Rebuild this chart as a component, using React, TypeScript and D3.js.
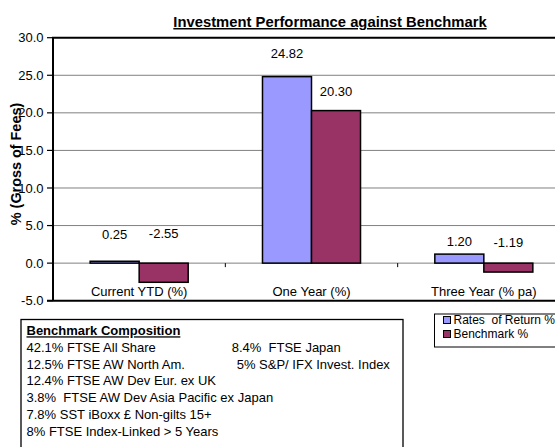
import React from "react";
import * as d3 from "d3";

const categories = ["Current YTD (%)", "One Year (%)", "Three Year (% pa)"];
const seriesNames = ["Rates  of Return %", "Benchmark %"];
const ratesOfReturn = [0.25, 24.82, 1.2];
const benchmark = [-2.55, 20.3, -1.19];
const yTicks = [-5, 0, 5, 10, 15, 20, 25, 30];
const compositionTitle = "Benchmark Composition";
const compositionLeft = [
  "42.1% FTSE All Share",
  "12.5% FTSE AW North Am.",
  "12.4% FTSE AW Dev Eur. ex UK",
  "3.8%  FTSE AW Dev Asia Pacific ex Japan",
  "7.8% SST iBoxx £ Non-gilts 15+",
  "8% FTSE Index-Linked > 5 Years",
];
const compositionRight = ["8.4%  FTSE Japan", "5% S&P/ IFX Invest. Index"];
const chartTitle = "Investment Performance against Benchmark";
const yTitle = "% (Gross of Fees)";

// label anchor heights (in value units) as placed in the reference
const labelLevels = [
  [3.85, 27.9, 2.95],
  [3.95, 22.8, 2.75],
];

const W = 555;
const H = 447;
const FONT = "'Liberation Sans', Arial, sans-serif";
const colors = ["#9999FF", "#993366"];
const fmt1 = (v: number) => d3.format(".1f")(v).replace("\u2212", "-");
const fmt2 = (v: number) => d3.format(".2f")(v).replace("\u2212", "-");

export default function App() {
  const plotLeft = 53;
  const plotRight = 570;
  const plotTop = 37.7;
  const plotBottom = 300.7;

  const x = d3.scaleBand<string>().domain(categories).range([plotLeft, plotRight]).padding(0);
  const xs = d3
    .scaleBand<number>()
    .domain([0, 1])
    .range([0, x.bandwidth()])
    .paddingInner(0)
    .paddingOuter(0.758);
  const y = d3.scaleLinear().domain([-5, 30]).range([plotBottom, plotTop]);

  const series = [ratesOfReturn, benchmark];

  return (
    <svg
      width={W}
      height={H}
      style={{ position: "absolute", left: 0, top: 0, background: "#fff" }}
      fontFamily={FONT}
    >
      <rect x={0} y={0} width={W} height={H} fill="#fff" />
      {/* title */}
      <text
        x={330}
        y={27}
        textAnchor="middle"
        fontSize={14.8}
        fontWeight="bold"
        textDecoration="underline"
      >
        {chartTitle}
      </text>

      {/* gridlines */}
      {yTicks
        .filter((t) => t > -5 && t < 30)
        .map((t) => (
          <line
            key={"g" + t}
            x1={plotLeft}
            x2={plotRight}
            y1={y(t)}
            y2={y(t)}
            stroke="#808080"
            strokeWidth={1}
          />
        ))}

      {/* bars */}
      {series.map((vals, si) =>
        vals.map((v, ci) => {
          const bx = (x(categories[ci]) as number) + (xs(si) as number);
          const y0 = y(Math.max(0, v));
          const y1 = y(Math.min(0, v));
          return (
            <rect
              key={`b${si}-${ci}`}
              x={bx}
              y={y0}
              width={xs.bandwidth()}
              height={y1 - y0}
              fill={colors[si]}
              stroke="#000"
              strokeWidth={1.5}
            />
          );
        })
      )}

      {/* category ticks on zero line */}
      {categories.slice(1).map((c) => (
        <line
          key={"ct" + c}
          x1={x(c) as number}
          x2={x(c) as number}
          y1={y(0)}
          y2={y(0) + 4}
          stroke="#000"
          strokeWidth={1}
        />
      ))}

      {/* frame */}
      <line x1={plotLeft - 1} x2={plotRight} y1={plotTop} y2={plotTop} stroke="#000" strokeWidth={2} />
      <line x1={plotLeft - 6} x2={plotRight} y1={plotBottom} y2={plotBottom} stroke="#000" strokeWidth={2} />
      <line x1={plotLeft} x2={plotLeft} y1={plotTop} y2={plotBottom} stroke="#000" strokeWidth={2} />

      {/* y ticks */}
      {yTicks.map((t) => (
        <g key={"yt" + t}>
          <line x1={plotLeft - 6} x2={plotLeft} y1={y(t)} y2={y(t)} stroke="#000" strokeWidth={1.2} />
          <text x={43.5} y={y(t) + 4.6} textAnchor="end" fontSize={13}>
            {fmt1(t)}
          </text>
        </g>
      ))}

      {/* y title */}
      <text
        transform={`translate(${21},${164}) rotate(-90)`}
        textAnchor="middle"
        fontSize={14.4}
        fontWeight="bold"
      >
        {yTitle}
      </text>

      {/* category labels */}
      {categories.map((c) => (
        <text
          key={"cl" + c}
          x={(x(c) as number) + x.bandwidth() / 2}
          y={296.3}
          textAnchor="middle"
          fontSize={13}
        >
          {c}
        </text>
      ))}

      {/* data labels */}
      {series.map((vals, si) =>
        vals.map((v, ci) => {
          const bx = (x(categories[ci]) as number) + (xs(si) as number) + xs.bandwidth() / 2;
          return (
            <text
              key={`l${si}-${ci}`}
              x={bx}
              y={y(labelLevels[si][ci]) + 4.6}
              textAnchor="middle"
              fontSize={13}
            >
              {fmt2(v)}
            </text>
          );
        })
      )}

      {/* benchmark composition box */}
      <rect x={21} y={319.5} width={382} height={140} fill="#fff" stroke="#000" strokeWidth={1.3} />
      <text
        x={26.5}
        y={335.3}
        fontSize={13}
        fontWeight="bold"
        textDecoration="underline"
      >
        {compositionTitle}
      </text>
      {compositionLeft.map((s, i) => (
        <text key={"cl" + i} x={26.5} y={352 + i * 16.7} fontSize={13} style={{ whiteSpace: "pre" }}>
          {s}
        </text>
      ))}
      {compositionRight.map((s, i) => (
        <text
          key={"cr" + i}
          x={i === 0 ? 231.7 : 236.7}
          y={352 + i * 16.7}
          fontSize={13}
          style={{ whiteSpace: "pre" }}
        >
          {s}
        </text>
      ))}

      {/* legend */}
      <rect x={434.5} y={314} width={140} height={33} fill="#fff" stroke="#000" strokeWidth={1} />
      {seriesNames.map((s, i) => (
        <g key={"lg" + i}>
          <rect
            x={443.5}
            y={320 + i * 14 - 3.5}
            width={7}
            height={7}
            fill={colors[i]}
            stroke="#000"
            strokeWidth={1}
          />
          <text x={453.5} y={320 + i * 14 + 4.3} fontSize={12} style={{ whiteSpace: "pre" }}>
            {s}
          </text>
        </g>
      ))}
    </svg>
  );
}
